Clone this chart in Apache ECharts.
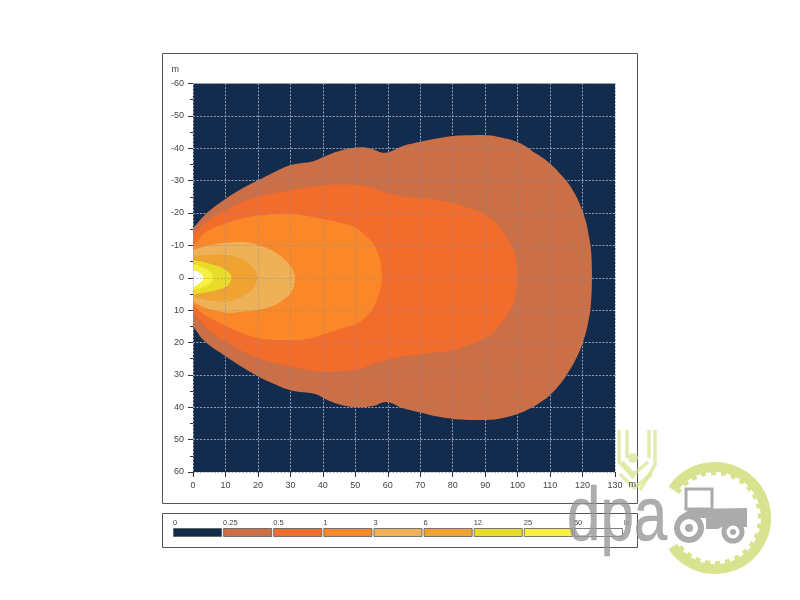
<!DOCTYPE html>
<html><head><meta charset="utf-8">
<style>html,body{margin:0;padding:0;background:#fff}#c{width:800px;height:600px}</style>
<script src="https://cdn.jsdelivr.net/npm/echarts@6/dist/echarts.min.js"></script>
</head><body><div id="c"></div>
<script>
const legendLabels = ['0','0.25','0.5','1','3','6','12','25','50','lx'];
const legendColors = ['#132C4E','#CB6F47','#F26C2C','#FB8828','#EFB158','#EFA332','#E8DC28','#F8F040','#FFFFFF'];
const xTicksMax = 130;
const lux025 = [[-3,-12.5],[0,-15.3],[4.2,-19.9],[10.2,-24.5],[15,-27.5],[20.2,-30.2],[25,-32.6],[30.2,-34.8],[37,-36],[40.3,-37.4],[45.3,-39.2],[50.4,-40.2],[54.5,-40],[59.2,-38.6],[64.7,-40.7],[70,-42],[75,-43],[80.2,-43.8],[85,-44],[90.5,-44],[95,-43.3],[99.7,-42],[102.5,-40.6],[104.8,-38.9],[107.8,-37],[110.5,-34.8],[113,-32.2],[115.6,-29.2],[117.8,-25.6],[119.7,-21.4],[121,-17.5],[121.8,-13.7],[122.5,-9.5],[122.8,-5.5],[122.9,0],[122.6,7.9],[121.8,13.5],[120.2,19.7],[118,25],[115.1,30],[112.7,33.3],[110,36.2],[107,38.5],[103.8,40.4],[100.7,41.8],[97.7,42.8],[94,43.6],[90.5,43.9],[85,43.9],[80.2,43.6],[75,42.8],[70,41.6],[64.7,40.3],[59.7,38.4],[55.5,39.6],[50.4,40],[45.5,39.2],[41.7,37.9],[37.6,35.9],[30.4,34.8],[25,32.8],[20.1,30.5],[15,27.5],[10.4,24.5],[3.7,19.7],[0,15.1],[-3,12.5]];
const lux05 = [[-3,-10.5],[0,-13.2],[4,-17],[10.2,-21],[20.2,-25],[30.2,-27],[40.3,-28.6],[46,-28.8],[51.4,-28.6],[55.5,-27.5],[60.7,-26],[66,-24.8],[70,-24.6],[80.2,-23],[86,-21.2],[90.5,-19.4],[94.5,-15.5],[97.7,-10.7],[99.2,-7],[99.9,-3],[99.9,2],[99,7],[96.6,12],[93.5,15.8],[90,18.7],[85,20.8],[80.2,22.3],[70,23.6],[61.7,24.8],[55,26.8],[50.4,28.3],[40.7,29],[30.4,27.4],[20.1,24.8],[10.4,20],[5.8,17],[0,11],[-3,8.5]];
const lux1 = [[-3,-8],[0,-10],[4.2,-14.2],[10.2,-16.8],[15,-18.2],[20.2,-19.2],[30.2,-19.7],[40.3,-18.1],[46,-16.8],[50.3,-15.3],[53.2,-13],[55.5,-10.6],[57,-7.5],[57.9,-4],[58.2,0.5],[57.7,3.5],[55.5,9.3],[53.5,11.8],[50.8,14],[46,15.6],[41.7,17],[35.4,18.9],[26.2,19.2],[20,18.6],[15,17],[10.4,15],[3.7,11.5],[0,8.4],[-3,6.5]];
const lux3 = [[-3,-7.6],[0,-8.6],[3.2,-9.6],[7,-10.4],[10.2,-10.8],[15.4,-11.1],[20.2,-10.1],[23,-9],[25.8,-7.6],[28.4,-5.5],[30.2,-3.4],[31.2,-1.2],[31.4,0.7],[30.4,4.3],[28.2,6.5],[25.3,8.4],[20,9.9],[15,10.5],[10.8,10.8],[7,10.2],[3.7,9.3],[0,7.5],[-3,6.5]];
const lux6 = [[-3,-6],[0,-6.5],[5,-7],[10.4,-7],[13.5,-6.4],[16,-5.3],[18.4,-3.2],[19.6,-1.2],[19.7,0.7],[18.8,3],[17,4.7],[14,6.4],[10.4,7.3],[6,7.2],[3,6.6],[0,5.8],[-3,5]];
const lux12 = [[-3,-6],[0,-5.5],[2.5,-5],[4.7,-4.5],[7.3,-3.7],[9.3,-2.9],[10.9,-1.8],[11.7,-0.6],[11.7,0.7],[10.9,2.2],[9.3,3.2],[7,3.9],[4.6,4.4],[2,4.9],[0,5.3],[-3,5.8]];
const lux25 = [[-3,-4.6],[0,-4.2],[2,-3.6],[3.7,-2.9],[5,-2.1],[5.8,-1.2],[6.2,0.2],[5.7,1.3],[4.7,2.2],[2.5,3.1],[0,3.8],[-3,4.3]];
const lux50 = [[-3,-2.8],[0,-2.4],[1.3,-1.9],[2.4,-1.2],[3.1,-0.3],[3.1,0.6],[2.1,1.6],[1,2.4],[0,3],[-3,3.4]];

const contours = [[lux025,1],[lux05,2],[lux1,3],[lux3,4],[lux6,5],[lux12,6],[lux25,7],[lux50,8]];
const txt = '#444';
const underLine = {show:true,lineStyle:{color:'rgba(195,215,235,0.72)',width:1,type:[2,1.5]}};
const overLine = {show:true,lineStyle:{color:'rgba(135,140,155,0.5)',width:1,type:[2,1.5]}};
const font = 'Liberation Sans';

function contourSeries(points, colorIndex, i){
  return {
    type:'custom', xAxisIndex:0, yAxisIndex:0, z:2+i, silent:true,
    data:points, encode:{x:0,y:1},
    renderItem(params, api){
      if(params.dataIndex!==0) return null;
      const cs = params.coordSys;
      return {
        type:'polygon',
        shape:{points:points.map(p=>api.coord(p)), smooth:0.4},
        style:{fill:legendColors[colorIndex]},
        clipPath:{type:'rect',shape:{x:cs.x,y:cs.y,width:cs.width,height:cs.height}}
      };
    }
  };
}
const legendSeries = {
  type:'custom', xAxisIndex:1, yAxisIndex:1, silent:true,
  data:legendColors.map((c,i)=>[i,0]), encode:{x:0,y:1},
  renderItem(params, api){
    const i = api.value(0);
    const a = api.coord([i,1]), b = api.coord([i+1,0]);
    return {type:'rect',shape:{x:a[0]+0.5,y:a[1]+0.5,width:b[0]-a[0]-2,height:b[1]-a[1]-1},
      style:{fill:legendColors[i],stroke:'#5a5a5a',lineWidth:0.8}};
  }
};
const green='#D8E28F', pale='rgba(216,226,143,0.7)', grey='rgba(150,150,150,0.78)', solidGrey='#ABABAB';
const mk = (pts)=>({type:'polyline',z:10,shape:{points:pts},style:{stroke:pale,lineWidth:3.5,fill:null}});
const watermark = [
  {type:'rect',z:1,shape:{x:162.5,y:53.5,width:475,height:450},style:{fill:null,stroke:'#555',lineWidth:1}},
  {type:'rect',z:1,shape:{x:162.5,y:513.5,width:475,height:34},style:{fill:null,stroke:'#555',lineWidth:1}},
  mk([[619,430],[619,462],[634,478]]), mk([[627,430],[627,458]]), mk([[649,430],[649,458]]), mk([[655,430],[655,465],[640,490]]),
  mk([[622,462],[634,474],[648,462]]), mk([[620,474],[634,488],[652,474]]),
  {type:'circle',z:10,shape:{cx:633,cy:458,r:5},style:{fill:pale}},
  {type:'text',z:101,x:567,y:481,scaleX:0.79,style:{text:'dpa',fontFamily:font,fontSize:76,fill:grey,stroke:grey,lineWidth:0.5}},
  {type:'arc',z:100,shape:{cx:715,cy:518,r:51,startAngle:-2.55,endAngle:2.55,clockwise:true},style:{stroke:green,lineWidth:10,fill:null}},
  {type:'arc',z:100,shape:{cx:715,cy:518,r:45,startAngle:-2.55,endAngle:2.55,clockwise:true},style:{stroke:green,lineWidth:4,fill:null,lineDash:[5,5]}},
  {type:'rect',z:100,shape:{x:686,y:489,width:26,height:20},style:{stroke:solidGrey,lineWidth:3,fill:null}},
  {type:'polygon',z:100,shape:{points:[[677,518],[690,509],[747,508],[747,527],[722,527],[718,529],[706,529],[706,518]]},style:{fill:solidGrey}},
  {type:'circle',z:100,shape:{cx:689,cy:528,r:12},style:{fill:'#fff',stroke:solidGrey,lineWidth:6}},
  {type:'circle',z:100,shape:{cx:689,cy:528,r:4},style:{fill:solidGrey}},
  {type:'circle',z:100,shape:{cx:733,cy:532,r:9},style:{fill:'#fff',stroke:solidGrey,lineWidth:5}},
  {type:'circle',z:100,shape:{cx:733,cy:532,r:3},style:{fill:solidGrey}}
];
const chart = echarts.init(document.getElementById('c'),null,{renderer:'canvas'});
chart.setOption({
  animation:false, backgroundColor:'#fff',
  textStyle:{fontFamily:font},
  graphic:{elements:watermark},
  grid:[
    {left:193,top:83.5,width:422,height:388.5,show:true,backgroundColor:legendColors[0],borderWidth:0},
    {left:173,top:528,width:451,height:9,show:false}
  ],
  xAxis:[
    {type:'value',gridIndex:0,min:0,max:xTicksMax,interval:10,z:20,position:'bottom',
     name:'m',nameLocation:'end',nameGap:11,nameTextStyle:{color:txt,fontSize:9,verticalAlign:'top',lineHeight:26},
     axisLine:{show:false,onZero:false},axisTick:{show:true,length:5,lineStyle:{color:'#333'}},
     axisLabel:{color:txt,fontSize:9,margin:9,showMinLabel:true,showMaxLabel:true},
     splitLine:overLine,minorTick:{show:false}},
    {type:'value',gridIndex:1,min:0,max:9,interval:1,position:'top',
     axisLine:{show:false,onZero:false},axisTick:{show:false},splitLine:{show:false},
     axisLabel:{color:txt,fontSize:7.5,margin:1,align:'left',showMinLabel:true,showMaxLabel:true,
       formatter:v=>legendLabels[v]}},
    {type:'value',gridIndex:0,min:0,max:xTicksMax,interval:10,z:0,position:'bottom',
     axisLine:{show:false,onZero:false},axisTick:{show:false},axisLabel:{show:false},splitLine:underLine}
  ],
  yAxis:[
    {type:'value',gridIndex:0,min:-60,max:60,interval:10,inverse:true,z:20,
     name:'m',nameLocation:'start',nameGap:9,nameTextStyle:{color:txt,fontSize:9,align:'right',padding:[0,14,0,0]},
     axisLine:{show:false,onZero:false},axisTick:{show:true,length:5,lineStyle:{color:'#333'}},
     minorTick:{show:true,splitNumber:2,length:3,lineStyle:{color:'#333'}},
     axisLabel:{color:txt,fontSize:9,margin:9,showMinLabel:true,showMaxLabel:true},
     splitLine:overLine},
    {type:'value',gridIndex:1,min:0,max:1,show:false},
    {type:'value',gridIndex:0,min:-60,max:60,interval:10,inverse:true,z:0,position:'left',
     axisLine:{show:false,onZero:false},axisTick:{show:false},axisLabel:{show:false},splitLine:underLine}
  ],
  series:[...contours.map((c,i)=>contourSeries(c[0],c[1],i)),legendSeries]
});
</script></body></html>
